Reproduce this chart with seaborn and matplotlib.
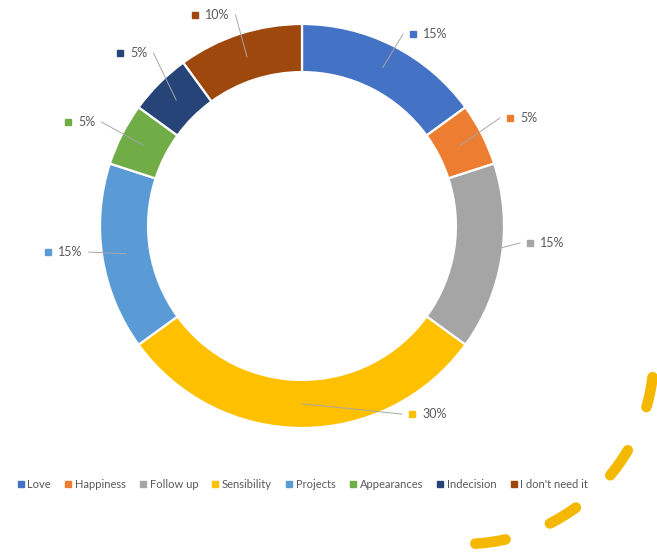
import numpy as np
import matplotlib
matplotlib.use("Agg")
import matplotlib.pyplot as plt
from matplotlib.lines import Line2D
import seaborn as sns

# Survey answers and their shares (percent)
categories = ["Love", "Happiness", "Follow up", "Sensibility",
              "Projects", "Appearances", "Indecision", "I don't need it"]
shares = [15, 5, 15, 30, 15, 5, 5, 10]
slice_colors = ["#4472C4", "#ED7D31", "#A5A5A5", "#FFC000",
                "#5B9BD5", "#70AD47", "#264478", "#9E480E"]

# Where each data label's key marker sits, in units of the ring radius
label_pos = [(0.55, 0.950), (1.03, 0.535), (1.13, -0.084), (0.545, -0.931),
             (-1.257, -0.129), (-1.158, 0.515), (-0.90, 0.856), (-0.53, 1.045)]

sns.set_theme(style="white")
plt.rcParams["font.family"] = ["Lato", "DejaVu Sans"]
plt.rcParams["lines.scale_dashes"] = False
palette = sns.color_palette(slice_colors)

W, H, DPI = 657, 554, 100
fig = plt.figure(figsize=(W / DPI, H / DPI), dpi=DPI)
fig.patch.set_facecolor("white")

# Decorative dashed swoosh in the lower-right corner (pixel space)
deco = fig.add_axes([0, 0, 1, 1], zorder=0)
deco.set_xlim(0, W)
deco.set_ylim(H, 0)
deco.axis("off")
theta = np.radians(np.linspace(-7, -92, 200))
cx, cy, rr = 464, 354, 190
deco.plot(cx + rr * np.cos(theta), cy - rr * np.sin(theta),
          color="#F5B800", lw=7.6, solid_capstyle="round",
          dash_capstyle="round", linestyle=(0, (22.0, 34.0)))

# Ring chart: radius 1 equals 202 px, centred at (302, 226) px
R_PX, CX, CY = 202, 302, 226
ax = fig.add_axes([0, 0, 1, 1], zorder=1)
ax.patch.set_alpha(0)

wedges, _ = ax.pie(shares, colors=palette, startangle=90, counterclock=False,
                   radius=1.0,
                   wedgeprops=dict(width=0.238, edgecolor="white", linewidth=1.6))

ax.set_xlim(-CX / R_PX, (W - CX) / R_PX)
ax.set_ylim(-(H - CY) / R_PX, CY / R_PX)
ax.set_aspect("equal")
ax.axis("off")

# Data labels: coloured key marker + percentage text
texts = []
for (lx, ly), share, col in zip(label_pos, shares, palette):
    ax.plot([lx], [ly], marker="s", ms=4.2, color=col, linestyle="none",
            zorder=4)
    t = ax.text(lx + 0.05, ly, f"{share}%", fontsize=9, color="#595959",
                ha="left", va="center", zorder=4)
    texts.append(t)

fig.canvas.draw()
renderer = fig.canvas.get_renderer()
inv = ax.transData.inverted()

# Leader lines from the middle of each ring segment to its label
for w, (lx, ly), t in zip(wedges, label_pos, texts):
    mid = np.radians((w.theta1 + w.theta2) / 2)
    sx, sy = 0.88 * np.cos(mid), 0.88 * np.sin(mid)
    if lx > 0:
        ex, ey = lx - 0.05, ly
    else:
        bb = t.get_window_extent(renderer)
        ex = inv.transform((bb.x1, bb.y0))[0] + 0.03
        ey = ly
    ax.plot([sx, ex], [sy, ey], color="#A6A6A6", lw=0.7, zorder=3)

# Legend along the bottom
handles = [Line2D([0], [0], marker="s", ms=4.0, color=c, linestyle="none")
           for c in palette]
fig.legend(handles, categories, loc="center",
           bbox_to_anchor=(303 / W, 1 - 484 / H), ncol=len(categories),
           frameon=False, fontsize=8, handlelength=0.5, handletextpad=0.35,
           columnspacing=1.3, labelcolor="#595959")

fig.savefig("out.png", dpi=DPI, facecolor="white")
